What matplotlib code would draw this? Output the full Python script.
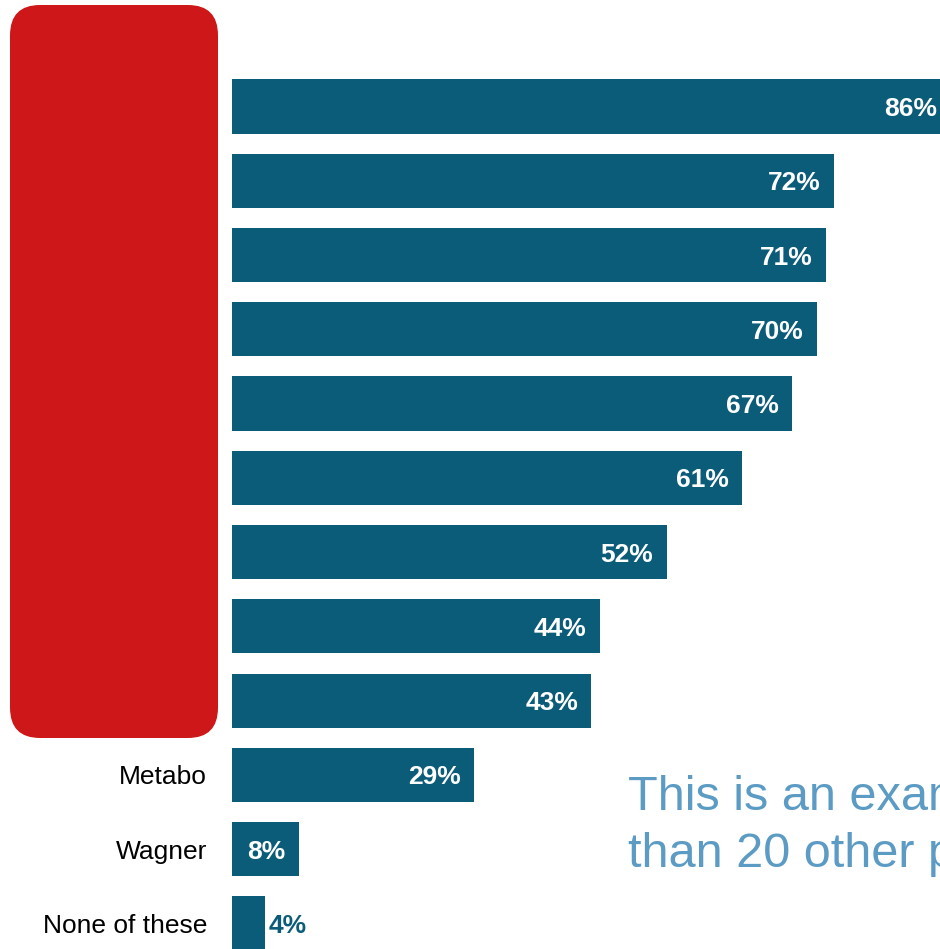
import matplotlib
matplotlib.use("Agg")
import matplotlib.pyplot as plt
from matplotlib.patches import FancyBboxPatch

plt.rcParams['font.family'] = ['Liberation Sans', 'DejaVu Sans']

# categories (the top nine are covered by the red box in the source)
categories = ['', '', '', '', '', '', '', '', '', 'Metabo', 'Wagner', 'None of these']
values = [86, 72, 71, 70, 67, 61, 52, 44, 43, 29, 8, 4]
note_lines = ['This is an example', 'than 20 other products']

BAR_COLOR = '#0B5C78'
RED = '#CD1719'
NOTE_COLOR = '#5B9BC4'

W, H = 940, 949
fig = plt.figure(figsize=(W / 100, H / 100), dpi=100)

# axes spans from the bar baseline to the right edge, full height
ax = fig.add_axes([232 / W, 0, (W - 232) / W, 1])
pitch = 74.27
first = 106.5
ax.set_xlim(0, (W - 232) / 8.36)
ax.set_ylim((H - first) / pitch, -first / pitch)
ax.axis('off')

ypos = list(range(len(values)))
ax.barh(ypos, values, height=0.73, color=BAR_COLOR, zorder=2)

for y, v, name in zip(ypos, values, categories):
    if v >= 8:
        ax.text(v - 1.6, y, f'{v}%', ha='right', va='center_baseline', color='white',
                fontsize=19, fontweight='bold', zorder=3)
    else:
        ax.text(v + 0.4, y, f'{v}%', ha='left', va='center_baseline', color=BAR_COLOR,
                fontsize=19, fontweight='bold', zorder=3)
    ax.text(-3, y, name, ha='right', va='center_baseline', color='black', fontsize=19,
            clip_on=False)

# red rounded block over the top labels
box = FancyBboxPatch((10 / W, 1 - 738 / H), 208 / W, 733 / H,
                     boxstyle='round,pad=0,rounding_size=0.032',
                     transform=fig.transFigure, facecolor=RED, edgecolor='none',
                     zorder=5)
fig.patches.append(box)

# note runs off the right edge, as in the source
for i, line in enumerate(note_lines):
    fig.text(628 / W, 1 - (810 + 57 * i) / H, line, ha='left', va='baseline',
             color=NOTE_COLOR, fontsize=35)

fig.savefig('out.png', dpi=100)
